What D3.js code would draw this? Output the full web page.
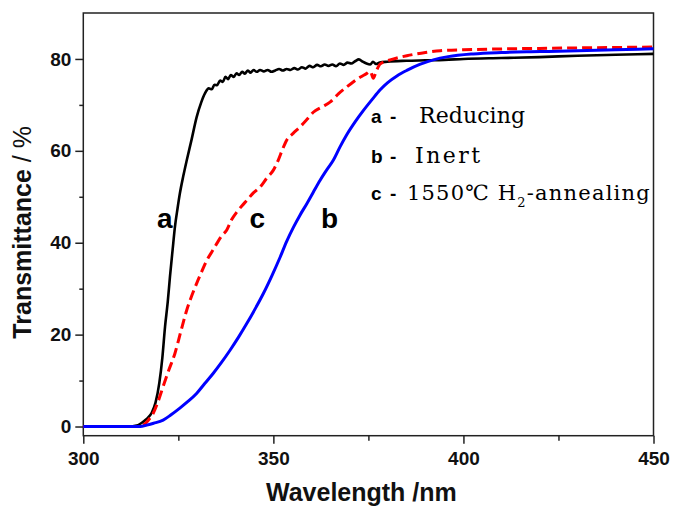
<!DOCTYPE html>
<html><head><meta charset="utf-8">
<script src="https://cdn.jsdelivr.net/npm/d3@7"></script>
<style>html,body{margin:0;padding:0;background:#fff}</style>
</head><body>
<svg id="chart" width="673" height="506"></svg>
<script>
// Series a (Reducing): [wavelength nm, transmittance %]
const seriesA = [[300,0],[312,0],[314,0.2],[315,0.6],[316,1.2],[317,1.9],[318,3],[319,5.2],[320,9.5],[320.8,15],[321.5,21.7],[322.2,27],[322.8,32.6],[323.5,38.5],[324.1,43.4],[324.8,47.5],[325.4,50.7],[326.3,54.5],[327.2,57.9],[328.5,62.5],[329.8,67.3],[331,70.5],[332,72.5],[333,73.6],[333.8,73.4],[334.5,74.4],[335.2,74.3],[336,75.3],[336.7,75.0],[337.4,76.1],[338.1,75.6],[338.8,76.5],[339.6,76.1],[340.3,76.9],[341,76.5],[341.8,77.2],[342.5,76.8],[343.3,77.5],[344,77.0],[344.8,77.6],[345.6,77.2],[346.5,77.6],[347.5,77.3],[348.5,77.6],[349.5,77.2],[350.5,77.5],[351.5,77.8],[352.5,77.5],[353.5,77.8],[354.5,77.6],[355.5,78.0],[356.5,77.7],[357.5,78.2],[358.5,77.9],[359.5,78.5],[360.5,78.2],[361.5,78.7],[362.5,78.4],[363.5,78.8],[364.5,78.5],[365.5,78.8],[366.5,78.4],[367.5,79.0],[368.5,78.7],[369.5,79.2],[370.5,79.0],[371.5,79.5],[372.5,79.9],[373.5,79.4],[374.5,79.0],[375.5,78.8],[376.2,79.4],[377,78.9],[378,79.2],[380,79.4],[385,79.6],[390,79.7],[395,79.8],[400,80],[410,80.2],[420,80.4],[430,80.7],[440,80.9],[450,81.1]];
// Series b (Inert)
const seriesB = [[300,0],[315,0],[316.7,0.3],[318.5,0.7],[321,1.4],[323,2.5],[325.4,4],[327.6,5.5],[329.8,7.2],[332,9.4],[334.2,11.6],[336.4,14],[338.6,16.6],[340.8,19.4],[343,22.4],[345.2,25.6],[347.4,29],[349.6,32.8],[351.8,36.9],[353.5,40.3],[355.3,43.4],[357,46],[358.8,48.5],[360.5,51],[362.3,53.6],[364,55.8],[365.8,58],[367.5,60.8],[369.3,63.5],[371.5,66.3],[373.7,68.8],[376,71.2],[378.1,73.3],[380,74.8],[382.5,76.3],[385.1,77.5],[388.5,78.8],[392.1,79.8],[396,80.5],[402.6,81.1],[410,81.4],[420.2,81.6],[430,81.8],[440,82.0],[450,82.2]];
// Series c (1550℃ H2-annealing)
const seriesC = [[300,0],[314,0],[315.5,0.2],[316.5,0.8],[317.5,1.8],[318.4,2.9],[319.7,5.5],[321,8.7],[322.5,12.3],[324.1,15.9],[325.6,20.5],[327.2,25.3],[328.5,28.4],[329.8,31.1],[331.2,33.8],[332.5,36.2],[333.8,38],[335.1,39.8],[336.4,41.5],[337.7,42.7],[339,45],[340.4,46.7],[341.7,48],[343,49.2],[344.8,50.9],[346.5,52.1],[348.2,54],[350,55.8],[351.3,58],[352.4,60.3],[353.5,62.3],[355.2,63.8],[357,65.2],[358.8,66.8],[360.5,68.4],[362.7,69.5],[364.9,70.6],[367.1,72.4],[369.3,73.9],[371,75],[372.8,76],[374.5,76.8],[375.5,77.3],[376.3,75.8],[377,77.2],[378.1,78.9],[380,79.6],[382.5,80.2],[385.1,80.7],[390,81.4],[393.9,81.8],[400,82],[411.4,82.2],[420,82.3],[430,82.4],[440,82.5],[450,82.6]];

const xMajor = [300,350,400,450];
const xMinor = [325,375,425];
const yMajor = [0,20,40,60,80];
const yMinor = [10,30,50,70];
const xTitle = "Wavelength /nm";
const yTitle = "Transmittance";
const yUnit = " / %";
const curveLabels = [{t:"a", w:319.4, v:43.1},{t:"c", w:343.7, v:43.1},{t:"b", w:362.5, v:43.1}];

const svg = d3.select("#chart");
const L = 83.3, R = 653.5, T = 13, B = 435.7;
const x = d3.scaleLinear().domain([300,450]).range([L,R]);
const y = d3.scaleLinear().domain([-2,90]).range([B,T]);
const axisColor = "#222";
const sans = "Liberation Sans, Arial, sans-serif";
const serif = "DejaVu Serif, serif";

// frame
svg.append("rect").attr("x",L).attr("y",T).attr("width",R-L).attr("height",B-T)
  .attr("fill","none").attr("stroke",axisColor).attr("stroke-width",1.5);

// x axis
const gx = svg.append("g").attr("transform",`translate(0,${B})`);
gx.call(d3.axisBottom(x).tickValues(xMajor).tickSize(8).tickPadding(8).tickFormat(d3.format("d")));
gx.append("g").call(d3.axisBottom(x).tickValues(xMinor).tickSize(5).tickFormat(""));
gx.selectAll(".domain").remove();
gx.selectAll("line").attr("stroke",axisColor).attr("stroke-width",1.5);
gx.selectAll("text").attr("font-family",sans).attr("font-weight","bold").attr("font-size",19).attr("fill","#111");

// y axis
const gy = svg.append("g").attr("transform",`translate(${L},0)`);
gy.call(d3.axisLeft(y).tickValues(yMajor).tickSize(8).tickPadding(4).tickFormat(d3.format("d")));
gy.append("g").call(d3.axisLeft(y).tickValues(yMinor).tickSize(4).tickFormat(""));
gy.selectAll(".domain").remove();
gy.selectAll("line").attr("stroke",axisColor).attr("stroke-width",1.5);
gy.selectAll("text").attr("font-family",sans).attr("font-weight","bold").attr("font-size",19).attr("fill","#111");

// lines
const line = d3.line().x(d=>x(d[0])).y(d=>y(d[1])).curve(d3.curveMonotoneX);
svg.append("path").datum(seriesA).attr("d",line).attr("fill","none").attr("stroke","#000").attr("stroke-width",2.6).attr("stroke-linejoin","round");
svg.append("path").datum(seriesC).attr("d",line).attr("fill","none").attr("stroke","#ff0000").attr("stroke-width",3).attr("stroke-dasharray","10,5");
svg.append("path").datum(seriesB).attr("d",line).attr("fill","none").attr("stroke","#0000ff").attr("stroke-width",3).attr("stroke-linejoin","round");

// curve labels
curveLabels.forEach(c=>{
  svg.append("text").attr("x",x(c.w)).attr("y",y(c.v)).text(c.t)
    .attr("font-family",sans).attr("font-weight","bold").attr("font-size",28).attr("fill","#000");
});

// legend
function lg(letter, yb){
  svg.append("text").attr("x",371).attr("y",yb).text(letter).attr("font-family",sans).attr("font-weight","bold").attr("font-size",19);
  svg.append("text").attr("x",390).attr("y",yb).text("-").attr("font-family",sans).attr("font-weight","bold").attr("font-size",19);
}
lg("a",123); lg("b",163); lg("c",200);
svg.append("text").attr("x",419).attr("y",123).text("Reducing").attr("font-family",serif).attr("font-size",22)
  .attr("textLength",106).attr("lengthAdjust","spacing");
svg.append("text").attr("x",415).attr("y",163).text("Inert").attr("font-family",serif).attr("font-size",22)
  .attr("textLength",65).attr("lengthAdjust","spacing");
const lc = svg.append("text").attr("x",407).attr("y",200).attr("font-family",serif).attr("font-size",21).attr("letter-spacing",1.2);
lc.append("tspan").text("1550℃ H");
lc.append("tspan").attr("dy",7).attr("font-size",13).text("2");
lc.append("tspan").attr("dy",-7).text("-annealing");

// axis titles
svg.append("text").attr("x",(L+R)/2 - 7).attr("y",501).attr("text-anchor","middle").text(xTitle)
  .attr("font-family",sans).attr("font-weight","bold").attr("font-size",25).attr("fill","#111");
const yt = svg.append("text").attr("transform",`translate(31,${(T+B)/2+8}) rotate(-90)`).attr("text-anchor","middle")
  .attr("font-family",sans).attr("font-size",25).attr("fill","#111");
yt.append("tspan").attr("font-weight","bold").text(yTitle);
yt.append("tspan").text(yUnit);
</script>
</body></html>
